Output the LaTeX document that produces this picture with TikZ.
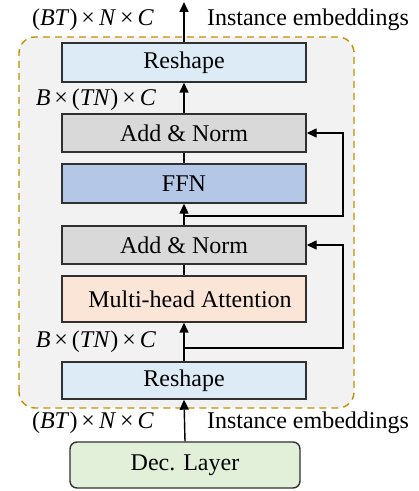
\documentclass[tikz,border=0pt]{standalone}
\usepackage{fontspec}
\setmainfont{Liberation Serif}
\usetikzlibrary{arrows.meta}
\definecolor{reshapec}{HTML}{DDEBF7}
\definecolor{normc}{HTML}{D9D9D9}
\definecolor{ffnc}{HTML}{B4C7E7}
\definecolor{attc}{HTML}{FBE5D6}
\definecolor{decc}{HTML}{E2F0D9}
\definecolor{contc}{HTML}{F2F2F2}
\definecolor{goldc}{HTML}{C09000}
\definecolor{edgec}{HTML}{303030}
\newcommand{\dimlab}[1]{{\fontsize{24}{28}\selectfont #1}}
\begin{document}
\begin{tikzpicture}[x=1pt,y=1pt,
  blk/.style={draw=edgec,line width=1.4pt,minimum width=244pt,inner sep=0pt,font=\fontsize{24}{28}\selectfont},
  lbl/.style={inner sep=0pt,font=\fontsize{24}{28}\selectfont},
  conn/.style={line width=1.4pt,draw=black},
  arr/.style={conn,-{Triangle[length=10pt,width=9pt]}}]
\useasboundingbox (0,0) rectangle (419,491);
\draw[goldc,fill=contc,line width=1.4pt,dash pattern=on 7pt off 5pt,rounded corners=16pt] (19,83) rectangle (354,454);
\node[blk,fill=reshapec,minimum height=39pt] (rs2) at (184,428.5) {Reshape};
\node[blk,fill=normc,minimum height=38pt] (an1) at (184,358) {Add \& Norm};
\node[blk,fill=ffnc,minimum height=39pt] (ffn) at (184,307.5) {FFN};
\node[blk,fill=normc,minimum height=38pt] (an2) at (184,246) {Add \& Norm};
\node[blk,fill=attc,minimum height=46pt] (mha) at (184,192) {\hspace{12pt}Multi-head Attention};
\node[blk,fill=reshapec,minimum height=37pt] (rs1) at (184,110.5) {Reshape};
\node[blk,fill=decc,minimum height=46pt,minimum width=230pt,rounded corners=7pt] (dec) at (185,26) {Dec. Layer};
\coordinate (top) at (184,489);
\coordinate (b1) at (184,275);
\coordinate (b2) at (184,143);
% labels
\node[lbl] (l1) at (93,471) {(\textit{BT})\,×\,\textit{N}\,×\,\textit{C}};
\node[lbl] (i1) at (308,471) {Instance embeddings};
\node[lbl] (l2) at (96,391) {\textit{B}\,×\,(\textit{TN})\,×\,\textit{C}};
\node[lbl] (l3) at (96,149) {\textit{B}\,×\,(\textit{TN})\,×\,\textit{C}};
\node[lbl] (l4) at (93,68) {(\textit{BT})\,×\,\textit{N}\,×\,\textit{C}};
\node[lbl] (i2) at (308,68) {Instance embeddings};
% connectors
\draw[arr] (rs2.north) -- (top);
\draw[arr] (an1.north) -- (rs2.south);
\draw[conn] (ffn.north) -- (an1.south);
\draw[arr] (an2.north) -- (ffn.south);
\draw[conn] (mha.north) -- (an2.south);
\draw[arr] (rs1.north) -- (mha.south);
\draw[arr] (dec.north) -- (rs1.south);
\draw[arr] (b1) -- (343,275) -- (343,358) -- (an1.east);
\draw[arr] (b2) -- (343,143) -- (343,246) -- (an2.east);
\end{tikzpicture}
\end{document}
